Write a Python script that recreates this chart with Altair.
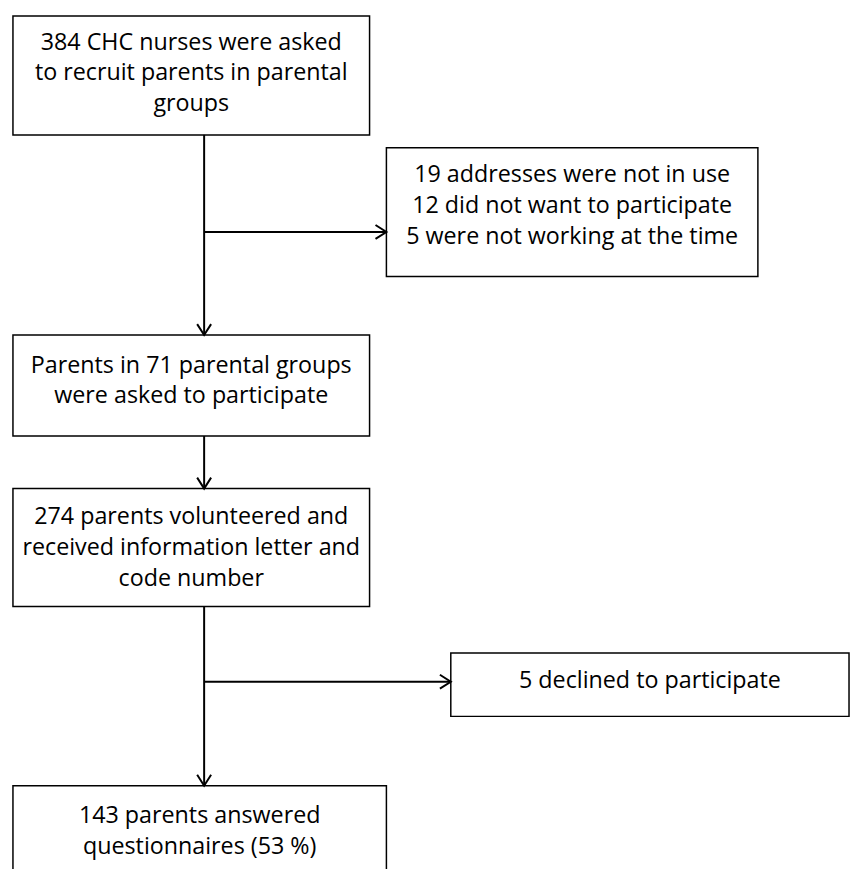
import altair as alt
import pandas as pd

# ---- content ----
box_ids = ["b1", "r1", "b2", "b3", "r2", "b4"]
box_lines = [
    ["384 CHC nurses were asked", "to recruit parents in parental", "groups"],
    ["19 addresses were not in use", "12 did not want to participate", "5 were not working at the time"],
    ["Parents in 71 parental groups", "were asked to participate"],
    ["274 parents volunteered and", "received information letter and", "code number"],
    ["5 declined to participate"],
    ["143 parents answered", "questionnaires (53 %)"],
]

# ---- layout (page pixel coordinates) ----
box_left = [13, 390, 13, 13, 455, 13]
box_right = [373, 765, 373, 373, 857, 390]
box_top = [12, 145, 334, 489, 655, 789]
box_bottom = [132, 275, 436, 608, 719, 895]
first_baseline = [46, 180, 372, 525, 690, 827]
line_step = [31, 31, 31, 31, 31, 31]

trunk_x = 206
seg_x1 = [trunk_x, trunk_x, trunk_x, trunk_x, trunk_x]
seg_x2 = [trunk_x, trunk_x, trunk_x, 390, 455]
seg_y1 = [132, 436, 608, 230, 684]
seg_y2 = [334, 489, 789, 230, 684]

head_x = [206, 206, 206, 390, 455]
head_y = [334, 489, 789, 230, 684]
head_angle = [90, 90, 90, 0, 0]

# ---- tables ----
rects = pd.DataFrame({"id": box_ids, "x": box_left, "x2": box_right,
                      "y": box_top, "y2": box_bottom})
rows = []
for i, lines in enumerate(box_lines):
    cx = (box_left[i] + box_right[i]) / 2
    for j, t in enumerate(lines):
        rows.append({"id": box_ids[i], "text": t, "x": cx,
                     "y": first_baseline[i] + j * line_step[i]})
texts = pd.DataFrame(rows)
segs = pd.DataFrame({"x": seg_x1, "x2": seg_x2, "y": seg_y1, "y2": seg_y2})
heads = pd.DataFrame({"x": head_x, "y": head_y, "angle": head_angle})

xs = alt.Scale(domain=[8, 859], nice=False, zero=False)
ys = alt.Scale(domain=[873, 8], nice=False, zero=False)

box_layer = alt.Chart(rects).mark_rect(
    fill="white", stroke="black", strokeWidth=1.5, clip=True
).encode(
    x=alt.X("x:Q", scale=xs, axis=None), x2="x2:Q",
    y=alt.Y("y:Q", scale=ys, axis=None), y2="y2:Q",
)

seg_layer = alt.Chart(segs).mark_rule(color="black", strokeWidth=2).encode(
    x=alt.X("x:Q", scale=xs, axis=None), x2="x2:Q",
    y=alt.Y("y:Q", scale=ys, axis=None), y2="y2:Q",
)

head_layer = alt.Chart(heads).mark_point(
    shape="M-1,-0.64L0,0L-1,0.64", filled=False, stroke="black",
    strokeWidth=2, size=484, opacity=1
).encode(
    x=alt.X("x:Q", scale=xs, axis=None),
    y=alt.Y("y:Q", scale=ys, axis=None),
    angle=alt.Angle("angle:Q", scale=None),
)

text_layer = alt.Chart(texts).mark_text(
    font="Open Sans", fontSize=23.5, color="black", align="center",
    baseline="alphabetic"
).encode(
    x=alt.X("x:Q", scale=xs, axis=None),
    y=alt.Y("y:Q", scale=ys, axis=None),
    text="text:N",
)

chart = alt.layer(box_layer, seg_layer, head_layer, text_layer).properties(
    width=851, height=865, padding=0,
    autosize=alt.AutoSizeParams(type="none"),
    background="white",
).configure_view(stroke=None)

chart.save("out.html", embed_options={"renderer": "svg", "actions": False})
